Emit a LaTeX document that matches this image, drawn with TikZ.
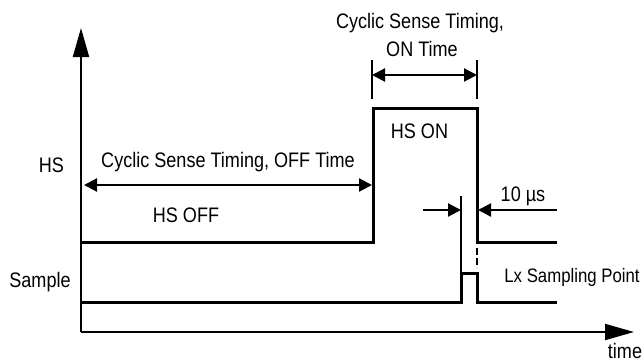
\documentclass[tikz,border=0pt]{standalone}
\usepackage{fontspec}
\setmainfont[FakeStretch=0.86]{Liberation Sans}
\usetikzlibrary{arrows.meta}

\begin{document}
\begin{tikzpicture}[x=1pt,y=-1pt,
        axis/.style={line width=2pt,-{Triangle[length=29pt,width=16pt]}},
        wave/.style={line width=3pt},
        dimline/.style={line width=2.2pt,{Triangle[length=13pt,width=13pt]}-{Triangle[length=13pt,width=13pt]}},
        dimarrow/.style={line width=2.2pt,-{Triangle[length=13pt,width=13pt]}},
        ext/.style={line width=2.2pt},
        lbl/.style={font=\fontsize{21}{23}\selectfont,inner sep=0pt,anchor=base}]
        \useasboundingbox (0,0) rectangle (643,362);
        \coordinate (o) at (81,332);
        \coordinate (ytop) at (81,28);
        \coordinate (xend) at (634,332);
        \draw[axis] (o) -- (ytop);
        \draw[axis] (o) -- (xend);
        % HS signal
        \draw[wave] (81,242) -- (373,242) -- (373,108) -- (477,108) -- (477,242) -- (557,242);
        % Sample signal
        \draw[wave] (81,302) -- (461,302) -- (461,273) -- (477,273) -- (477,302) -- (557,302);
        \draw[ext,dashed,dash pattern=on 7pt off 3pt] (477,248) -- (477,268);
        % ON time
        \coordinate (onL) at (372,75);
        \coordinate (onR) at (477,75);
        \draw[ext] (372,60) -- (372,99);
        \draw[ext] (477,60) -- (477,99);
        \draw[dimline] (onL) -- (onR);
        % OFF time
        \coordinate (offL) at (84,185);
        \coordinate (offR) at (372,185);
        \draw[dimline] (offL) -- (offR);
        % 10 us
        \coordinate (smpL) at (461,210);
        \coordinate (smpR) at (478,210);
        \draw[ext] (461,196) -- (461,273);
        \draw[dimarrow] (423,210) -- (smpL);
        \draw[dimarrow] (557,210) -- (smpR);
        % labels
        \node[lbl] (onA) at (420,28) {Cyclic Sense Timing,};
        \node[lbl] (onB) at (422,56) {ON Time};
        \node[lbl] (hson) at (419.5,138) {HS ON};
        \node[lbl] (hs) at (51.5,172) {HS};
        \node[lbl] (offt) at (228,167) {Cyclic Sense Timing, OFF Time};
        \node[lbl] (hsoff) at (186,222) {HS OFF};
        \node[lbl] (tus) at (523,201) {10 µs};
        \node[lbl] (smp) at (40,287) {Sample};
        \node[lbl,font=\fontsize{19.5}{22}\selectfont] (lx) at (572,282) {Lx Sampling Point};
        \node[lbl] (time) at (625,358) {time};
\end{tikzpicture}
\end{document}
